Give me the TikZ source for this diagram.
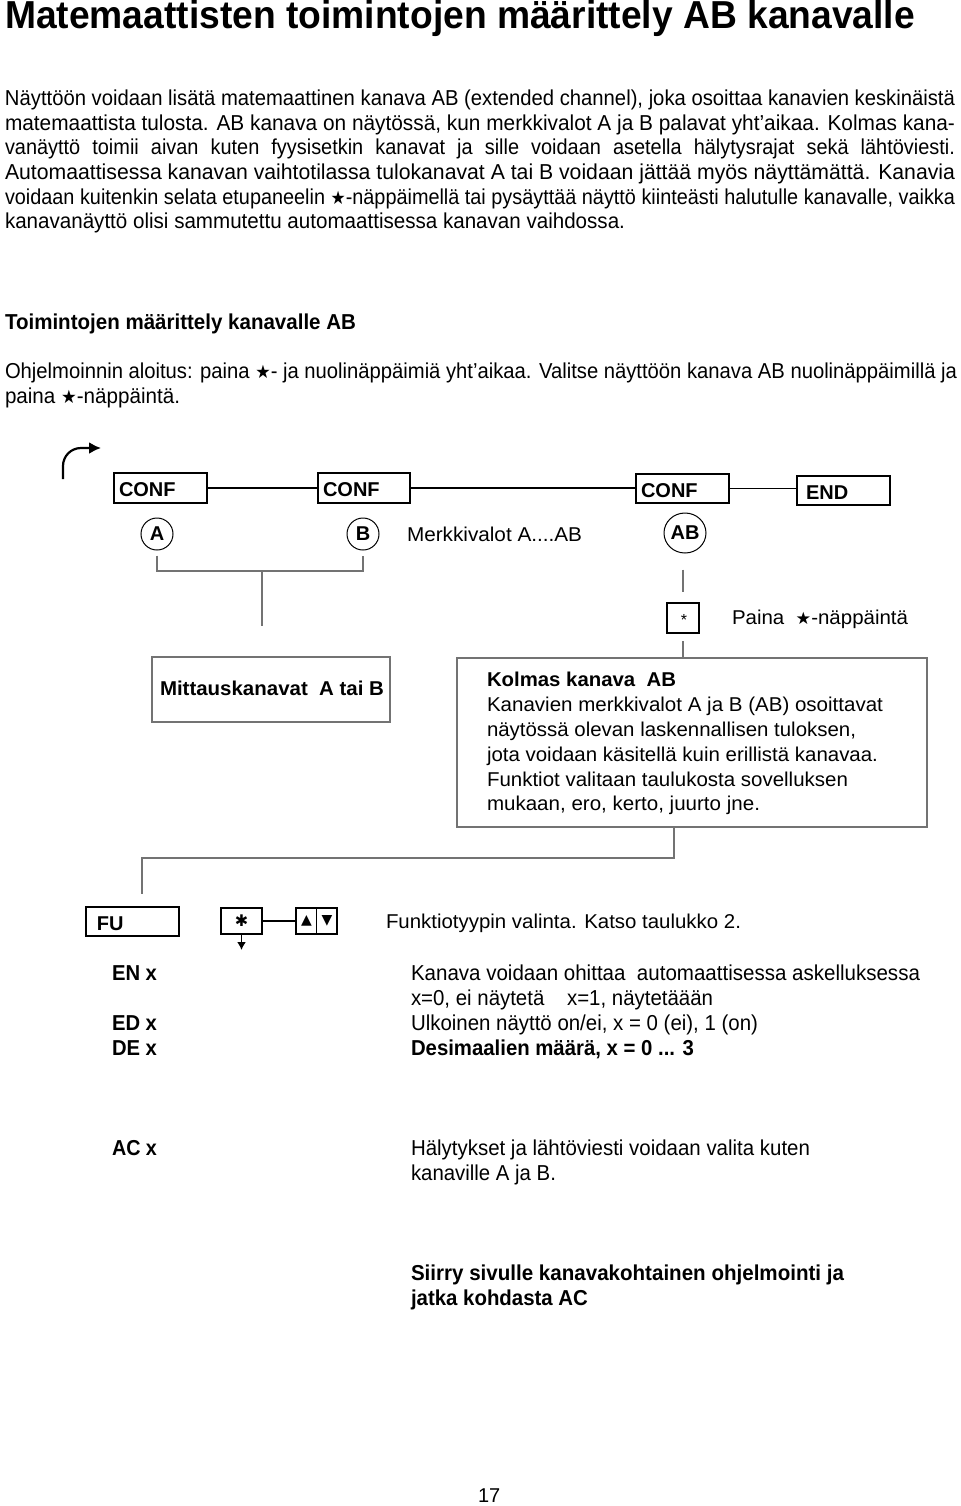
\documentclass[tikz,border=0pt]{standalone}
\usepackage{fontspec}
\usepackage{graphicx}
\setmainfont{Liberation Sans}
\newfontfamily\symf{DejaVu Sans}
\usetikzlibrary{arrows.meta,shapes.geometric}
\newlength{\pxu}\setlength{\pxu}{0.5pt}
\newcommand{\fw}[2]{\resizebox{#1\pxu}{\height}{#2}}
\newcommand{\st}{{\symf\scalebox{0.85}{★}}}
\tikzset{
  txt/.style={anchor=base west, inner sep=0pt, outer sep=0pt, font=\fontsize{10pt}{12pt}\selectfont},
  btxt/.style={txt, font=\fontsize{10pt}{12pt}\selectfont\bfseries},
  ctxt/.style={txt, font=\fontsize{10.8pt}{12pt}\selectfont},
  cbtxt/.style={txt, font=\fontsize{10.8pt}{12pt}\selectfont\bfseries},
  thickbox/.style={draw=black, line width=1pt, inner sep=0pt},
  graybox/.style={draw=black!55, line width=0.55pt, inner sep=0pt},
  ring/.style={draw=black, line width=0.5pt, inner sep=0pt},
  conn/.style={draw=black, line width=0.9pt},
  gline/.style={draw=black!55, line width=0.55pt},
}
\begin{document}
\begin{tikzpicture}[x=0.5pt, y=-0.5pt]
\useasboundingbox[fill=white] (0,0) rectangle (960,1506);

% Title
\node[txt, font=\fontsize{19.5pt}{21pt}\selectfont\bfseries] (title) at (5,28)
  {\fw{910}{Matemaattisten toimintojen määrittely AB kanavalle}};

% Paragraph
\node[ctxt] (p1) at (5,105) {\fw{950}{Näyttöön voidaan lisätä matemaattinen kanava AB (extended channel), joka osoittaa kanavien keskinäistä}};
\node[ctxt] (p2) at (5,130) {\fw{950}{matemaattista tulosta. AB kanava on näytössä, kun merkkivalot A ja B palavat yht'aikaa. Kolmas kana-}};
\node[ctxt] (p3) at (5,154) {\fw{950}{\makebox[515pt][s]{vanäyttö toimii aivan kuten fyysisetkin kanavat ja sille voidaan asetella hälytysrajat sekä lähtöviesti.}}};
\node[ctxt] (p4) at (5,179) {\fw{950}{Automaattisessa kanavan vaihtotilassa tulokanavat A tai B voidaan jättää myös näyttämättä. Kanavia}};
\node[ctxt] (p5) at (5,204) {\fw{950}{voidaan kuitenkin selata etupaneelin \st-näppäimellä tai pysäyttää näyttö kiinteästi halutulle kanavalle, vaikka}};
\node[ctxt] (p6) at (5,228) {\fw{620}{kanavanäyttö olisi sammutettu automaattisessa kanavan vaihdossa.}};

\node[cbtxt] (h2) at (5,329) {\fw{351}{Toimintojen määrittely kanavalle AB}};
\node[ctxt] (o1) at (5,378) {\fw{952}{Ohjelmoinnin aloitus: paina \st- ja nuolinäppäimiä yht'aikaa. Valitse näyttöön kanava AB nuolinäppäimillä ja}};
\node[ctxt] (o2) at (5,403) {\fw{175}{paina \st-näppäintä.}};

% start arrow
\coordinate (sa0) at (63,479);
\coordinate (sa1) at (101,448);
\draw[line width=1.1pt, -{Latex[length=6pt,width=6pt]}] (sa0) -- (63,466) to[out=90,in=180] (81,448) -- (sa1);

% CONF row
\node[thickbox, minimum width=46.5pt, minimum height=15pt] (c1) at (160.5,488) {};
\node[thickbox, minimum width=46pt, minimum height=15pt] (c2) at (364,488) {};
\node[thickbox, minimum width=46.5pt, minimum height=14.5pt] (c3) at (682.5,488.5) {};
\node[thickbox, minimum width=46.5pt, minimum height=14.5pt] (c4) at (843.5,490.5) {};
\node[btxt] (c1t) at (119,496) {CONF};
\node[btxt] (c2t) at (323,496) {CONF};
\node[btxt] (c3t) at (641,497) {CONF};
\node[btxt] (c4t) at (806,499) {END};
\draw[conn] (c1.east) -- (c1.east -| c2.west);
\draw[conn] (c2.east) -- (c2.east -| c3.west);
\draw[conn] (c3.east) -- (c3.east -| c4.west);

% circles
\node[ring, circle, minimum size=16pt, font=\fontsize{10pt}{12pt}\selectfont\bfseries] (A) at (157,534) {A};
\node[ring, circle, minimum size=16pt, font=\fontsize{10pt}{12pt}\selectfont\bfseries] (B) at (363,534) {B};
\node[ring, ellipse, minimum width=21pt, minimum height=20pt, font=\fontsize{10pt}{12pt}\selectfont\bfseries, inner sep=0pt] (AB) at (685,533) {AB};
\node[txt] (mk) at (407,541) {\fw{175}{Merkkivalot A....AB}};

% bracket A/B
\coordinate (brm) at (262,571);
\coordinate (brd) at (262,626);
\draw[gline] ([yshift=-2.5pt]A.south) |- (brm) -| ([yshift=-2.5pt]B.south);
\draw[gline] (brm) -- (brd);

% Mittauskanavat box
\node[graybox, minimum width=119pt, minimum height=32.5pt] (mit) at (271,689.5) {};
\node[btxt] (mitt) at (160,695) {\fw{224}{Mittauskanavat\ \ A tai B}};

% star box & Kolmas
\node[thickbox, minimum width=16pt, minimum height=15pt] (sb) at (683,618) {};
\node[inner sep=0pt, font=\fontsize{8pt}{9pt}\selectfont] (sbt) at (684,620) {*};
\node[txt] (paina) at (732,624) {\fw{176}{Paina\ \ \st-näppäintä}};
\draw[gline] ([yshift=-8pt]AB.south -| sb.north) -- ([yshift=5pt]sb.north);

\node[graybox, minimum width=235pt, minimum height=84.5pt] (kol) at (692,742.5) {};
\draw[gline] ([yshift=-3.5pt]sb.south) -- (sb.south |- kol.north);
\node[btxt] (k1) at (487,686) {\fw{189}{Kolmas kanava\ \ AB}};
\node[txt] (k2) at (487,711) {\fw{396}{Kanavien merkkivalot A ja B (AB) osoittavat}};
\node[txt] (k3) at (487,736) {\fw{369}{näytössä olevan laskennallisen tuloksen,}};
\node[txt] (k4) at (487,761) {\fw{391}{jota voidaan käsitellä kuin erillistä kanavaa.}};
\node[txt] (k5) at (487,786) {\fw{361}{Funktiot valitaan taulukosta sovelluksen}};
\node[txt] (k6) at (487,810) {\fw{273}{mukaan, ero, kerto, juurto jne.}};

% FU row
\node[thickbox, minimum width=46.5pt, minimum height=14.5pt] (fu) at (132.5,921.5) {};
\node[btxt] (fut) at (97,930) {FU};
\node[thickbox, minimum width=20.5pt, minimum height=13pt] (sk) at (241.5,921) {};
\node[inner sep=0pt, font=\symf\fontsize{8pt}{9pt}\selectfont\bfseries] (skt) at (241.5,921) {✱};
\node[thickbox, minimum width=20.5pt, minimum height=13pt] (ak) at (316.5,921) {};
\draw[line width=0.8pt] (ak.north) -- (ak.south);
\node[inner sep=0pt, font=\symf\fontsize{7pt}{8pt}\selectfont] (aku) at (306.5,921) {▲};
\node[inner sep=0pt, font=\symf\fontsize{7pt}{8pt}\selectfont] (akd) at (327,921) {▼};
\draw[conn] (sk.east) -- (ak.west);
\coordinate (skd) at (241.5,950);
\draw[line width=0.9pt, -{Latex[length=4pt,width=4.5pt]}] (sk.south) -- (skd);
\node[txt] (fn) at (386,928) {\fw{355}{Funktiotyypin valinta. Katso taulukko 2.}};

% connector from Kolmas box to FU
\coordinate (kd) at (674,858);
\coordinate (kl) at (142,858);
\draw[gline] (kol.south -| kd) -- (kd) -- (kl) -- ([yshift=6pt]fu.north -| kl);

% parameter list
\node[cbtxt] (en) at (112,980) {\fw{45}{EN x}};
\node[cbtxt] (ed) at (112,1030) {\fw{45}{ED x}};
\node[cbtxt] (de) at (112,1055) {\fw{45}{DE x}};
\node[ctxt] (r1) at (411,980) {\fw{509}{Kanava voidaan ohittaa\ \ automaattisessa askelluksessa}};
\node[ctxt] (r2) at (411,1005) {\fw{302}{x=0, ei näytetä\ \ \ \ x=1, näytetäään}};
\node[ctxt] (r3) at (411,1030) {\fw{347}{Ulkoinen näyttö on/ei, x = 0 (ei), 1 (on)}};
\node[cbtxt] (r4) at (411,1055) {\fw{283}{Desimaalien määrä, x = 0 ... 3}};

\node[cbtxt] (ac) at (112,1155) {\fw{45}{AC x}};
\node[ctxt] (r5) at (411,1155) {\fw{399}{Hälytykset ja lähtöviesti voidaan valita kuten}};
\node[ctxt] (r6) at (411,1180) {\fw{145}{kanaville A ja B.}};

\node[cbtxt] (s1) at (411,1280) {\fw{433}{Siirry sivulle kanavakohtainen ohjelmointi ja}};
\node[cbtxt] (s2) at (411,1305) {\fw{177}{jatka kohdasta AC}};

\node[txt] (pg) at (478,1502) {17};
\end{tikzpicture}
\end{document}
